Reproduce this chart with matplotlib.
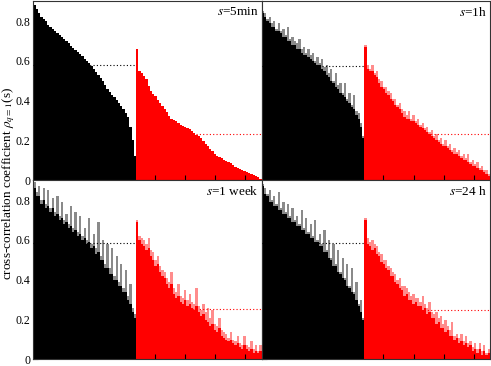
import numpy as np
import matplotlib.pyplot as plt

plt.rcParams['font.family'] = ['Liberation Serif', 'DejaVu Serif']
plt.rcParams['mathtext.fontset'] = 'stix'

labels = ['5min', '1h', '1 week', '24 h']

# s = 5 min
black_5min = [0.88, 0.86, 0.84, 0.82, 0.81, 0.80, 0.78, 0.77, 0.76, 0.75,
              0.74, 0.73, 0.72, 0.71, 0.70, 0.69, 0.675, 0.665, 0.655, 0.645,
              0.635, 0.625, 0.61, 0.60, 0.59, 0.575, 0.56, 0.545, 0.53, 0.515,
              0.50, 0.48, 0.46, 0.445, 0.43, 0.42, 0.405, 0.39, 0.375, 0.36,
              0.34, 0.32, 0.27, 0.20, 0.12]
red_5min = [0.66, 0.55, 0.54, 0.525, 0.51, 0.475, 0.45, 0.435, 0.423, 0.405,
            0.39, 0.372, 0.36, 0.345, 0.322, 0.31, 0.303, 0.297, 0.29, 0.28,
            0.272, 0.267, 0.26, 0.255, 0.249, 0.238, 0.229, 0.221, 0.21, 0.196,
            0.182, 0.17, 0.158, 0.148, 0.132, 0.124, 0.119, 0.11, 0.104, 0.099,
            0.093, 0.085, 0.075, 0.068, 0.061, 0.056, 0.05, 0.046, 0.042, 0.037,
            0.03, 0.026, 0.021, 0.015, 0.008]

# s = 1 h
black_1h = [0.84, 0.82, 0.80, 0.79, 0.77, 0.77, 0.75, 0.75, 0.74, 0.72,
            0.72, 0.70, 0.70, 0.68, 0.68, 0.66, 0.66, 0.64, 0.63, 0.63,
            0.62, 0.61, 0.60, 0.59, 0.58, 0.58, 0.56, 0.55, 0.53, 0.52,
            0.50, 0.49, 0.47, 0.46, 0.44, 0.43, 0.42, 0.40, 0.39, 0.37,
            0.36, 0.33, 0.31, 0.27, 0.21]
black_1h_hi = [0.85, 0.84, 0.81, 0.82, 0.79, 0.80, 0.76, 0.79, 0.75, 0.76,
               0.73, 0.77, 0.71, 0.72, 0.70, 0.69, 0.71, 0.66, 0.67, 0.64,
               0.66, 0.63, 0.64, 0.60, 0.62, 0.59, 0.61, 0.57, 0.58, 0.54,
               0.56, 0.50, 0.54, 0.48, 0.49, 0.44, 0.49, 0.41, 0.44, 0.38,
               0.43, 0.35, 0.34, 0.29, 0.22]
red_1h = [0.67, 0.56, 0.55, 0.55, 0.53, 0.52, 0.49, 0.47, 0.46, 0.44,
          0.43, 0.41, 0.40, 0.38, 0.37, 0.36, 0.34, 0.32, 0.31, 0.31,
          0.30, 0.30, 0.29, 0.28, 0.27, 0.26, 0.25, 0.24, 0.23, 0.22,
          0.21, 0.20, 0.19, 0.18, 0.17, 0.17, 0.16, 0.15, 0.14, 0.13,
          0.13, 0.12, 0.11, 0.10, 0.10, 0.09, 0.08, 0.07, 0.07, 0.06,
          0.05, 0.05, 0.04, 0.03, 0.02]
red_1h_hi = [0.68, 0.58, 0.56, 0.58, 0.54, 0.55, 0.51, 0.50, 0.47, 0.47,
             0.45, 0.44, 0.41, 0.41, 0.38, 0.39, 0.36, 0.35, 0.33, 0.35,
             0.31, 0.33, 0.30, 0.31, 0.28, 0.29, 0.26, 0.27, 0.24, 0.25,
             0.22, 0.23, 0.20, 0.21, 0.18, 0.20, 0.17, 0.18, 0.15, 0.16,
             0.14, 0.15, 0.12, 0.13, 0.11, 0.13, 0.09, 0.10, 0.08, 0.09,
             0.06, 0.07, 0.05, 0.05, 0.03]

# s = 1 week
black_1w = [0.86, 0.82, 0.82, 0.78, 0.80, 0.76, 0.77, 0.74, 0.76, 0.72,
            0.73, 0.70, 0.71, 0.68, 0.69, 0.66, 0.67, 0.64, 0.65, 0.62,
            0.63, 0.60, 0.61, 0.58, 0.59, 0.56, 0.57, 0.53, 0.54, 0.50,
            0.50, 0.46, 0.46, 0.43, 0.43, 0.40, 0.40, 0.37, 0.37, 0.34,
            0.34, 0.30, 0.28, 0.24, 0.21]
black_1w_hi = [0.89, 0.84, 0.87, 0.80, 0.86, 0.78, 0.85, 0.76, 0.81, 0.74,
               0.82, 0.72, 0.79, 0.70, 0.73, 0.68, 0.77, 0.66, 0.74, 0.64,
               0.72, 0.62, 0.66, 0.60, 0.71, 0.58, 0.63, 0.56, 0.69, 0.52,
               0.60, 0.48, 0.58, 0.46, 0.56, 0.42, 0.52, 0.39, 0.48, 0.36,
               0.45, 0.32, 0.38, 0.26, 0.23]
red_1w = [0.69, 0.60, 0.58, 0.57, 0.55, 0.56, 0.52, 0.50, 0.47, 0.48,
          0.44, 0.42, 0.41, 0.38, 0.36, 0.38, 0.33, 0.31, 0.32, 0.29,
          0.28, 0.30, 0.27, 0.28, 0.26, 0.25, 0.27, 0.24, 0.22, 0.23,
          0.20, 0.19, 0.17, 0.18, 0.15, 0.14, 0.16, 0.12, 0.11, 0.10,
          0.09, 0.10, 0.08, 0.07, 0.08, 0.06, 0.05, 0.07, 0.05, 0.04,
          0.05, 0.03, 0.04, 0.03, 0.04]
red_1w_hi = [0.70, 0.62, 0.61, 0.60, 0.58, 0.61, 0.55, 0.54, 0.50, 0.52,
             0.47, 0.45, 0.44, 0.41, 0.39, 0.44, 0.36, 0.34, 0.38, 0.32,
             0.31, 0.35, 0.30, 0.33, 0.29, 0.28, 0.36, 0.27, 0.25, 0.28,
             0.24, 0.26, 0.21, 0.25, 0.18, 0.17, 0.21, 0.15, 0.14, 0.13,
             0.11, 0.14, 0.10, 0.09, 0.12, 0.08, 0.07, 0.12, 0.07, 0.06,
             0.09, 0.05, 0.07, 0.04, 0.07]

# s = 24 h
black_24h = [0.87, 0.83, 0.82, 0.79, 0.79, 0.77, 0.77, 0.75, 0.75, 0.73,
             0.73, 0.71, 0.71, 0.69, 0.69, 0.67, 0.67, 0.65, 0.65, 0.63,
             0.63, 0.61, 0.61, 0.59, 0.59, 0.57, 0.57, 0.54, 0.54, 0.51,
             0.50, 0.47, 0.47, 0.44, 0.43, 0.41, 0.40, 0.37, 0.36, 0.34,
             0.33, 0.30, 0.27, 0.24, 0.20]
black_24h_hi = [0.88, 0.86, 0.83, 0.85, 0.80, 0.82, 0.78, 0.84, 0.76, 0.79,
                0.74, 0.78, 0.72, 0.76, 0.70, 0.72, 0.68, 0.75, 0.66, 0.71,
                0.64, 0.68, 0.62, 0.70, 0.60, 0.63, 0.58, 0.65, 0.55, 0.60,
                0.51, 0.58, 0.48, 0.55, 0.44, 0.51, 0.41, 0.48, 0.37, 0.46,
                0.34, 0.39, 0.28, 0.30, 0.21]
red_24h = [0.70, 0.58, 0.57, 0.55, 0.56, 0.53, 0.52, 0.49, 0.48, 0.46,
           0.45, 0.42, 0.42, 0.39, 0.38, 0.36, 0.35, 0.32, 0.33, 0.30,
           0.30, 0.28, 0.29, 0.27, 0.27, 0.25, 0.26, 0.23, 0.24, 0.21,
           0.21, 0.18, 0.19, 0.16, 0.16, 0.14, 0.15, 0.12, 0.12, 0.10,
           0.11, 0.08, 0.09, 0.07, 0.08, 0.06, 0.07, 0.04, 0.05, 0.03,
           0.05, 0.02, 0.04, 0.02, 0.03]
red_24h_hi = [0.71, 0.61, 0.59, 0.60, 0.58, 0.57, 0.54, 0.53, 0.50, 0.50,
              0.47, 0.46, 0.44, 0.43, 0.40, 0.41, 0.37, 0.37, 0.36, 0.34,
              0.32, 0.33, 0.31, 0.31, 0.29, 0.32, 0.28, 0.26, 0.29, 0.24,
              0.23, 0.24, 0.21, 0.22, 0.18, 0.20, 0.17, 0.15, 0.19, 0.12,
              0.13, 0.11, 0.13, 0.09, 0.12, 0.08, 0.09, 0.06, 0.08, 0.05,
              0.08, 0.04, 0.07, 0.03, 0.05]

# mean levels (dotted lines)
black_mean = [0.578, 0.576, 0.585, 0.583]
red_mean = [0.232, 0.232, 0.251, 0.246]

blacks = [black_5min, black_1h, black_1w, black_24h]
blacks_hi = [None, black_1h_hi, black_1w_hi, black_24h_hi]
reds = [red_5min, red_1h, red_1w, red_24h]
reds_hi = [None, red_1h_hi, red_1w_hi, red_24h_hi]

fig, axes = plt.subplots(2, 2, figsize=(4.91, 3.66), dpi=100)
plt.subplots_adjust(left=0.068, right=0.998, top=0.997, bottom=0.018, wspace=0, hspace=0)

for k, ax in enumerate(axes.flat):
    nb = len(blacks[k])
    nr = len(reds[k])
    xb = np.arange(nb)
    xr = np.arange(nb, nb + nr)
    if blacks_hi[k] is not None:
        ax.bar(xb, blacks_hi[k], width=1.0, color='#8a8a8a', linewidth=0)
        ax.bar(xr, reds_hi[k], width=1.0, color='#ff8c8c', linewidth=0)
    ax.bar(xb, blacks[k], width=1.0, color='black', linewidth=0)
    ax.bar(xr, reds[k], width=1.0, color='red', linewidth=0)
    ax.plot([-0.5, nb - 0.5], [black_mean[k]] * 2, color='black', lw=0.8, ls=(0, (1, 2)), zorder=3)
    ax.plot([nb - 0.5, nb + nr - 0.5], [red_mean[k]] * 2, color='red', lw=0.8, ls=(0, (1, 2)), zorder=3)

    ax.set_xlim(-0.5, nb + nr - 0.5)
    ax.set_ylim(0, 0.9)
    ax.set_xticks(np.arange(0, nb + nr, 13.2))
    ax.set_xticklabels([])
    ax.set_yticks([0, 0.2, 0.4, 0.6, 0.8])
    ax.set_yticks(np.arange(0.1, 0.9, 0.2), minor=True)
    if k % 2 == 0:
        ax.set_yticklabels(['0', '0.2', '0.4', '0.6', '0.8'])
    else:
        ax.set_yticklabels([])
    ax.tick_params(axis='both', which='both', direction='in', labelsize=8.5, color='black')
    ax.tick_params(axis='y', which='major', length=3.5, pad=2)
    ax.tick_params(axis='y', which='minor', length=2)
    ax.tick_params(axis='x', length=3.5)
    for sp in ax.spines.values():
        sp.set_linewidth(0.8)
        sp.set_color('#333333')
    ax.text(0.985, 0.975, r'$s$=' + labels[k], transform=ax.transAxes,
            ha='right', va='top', fontsize=9.5)

fig.text(0.0, 0.5, r'cross-correlation coefficient $\rho_{q=1}$(s)', rotation=90,
         ha='left', va='center', fontsize=9.5)

plt.savefig('out.png', dpi=100)
